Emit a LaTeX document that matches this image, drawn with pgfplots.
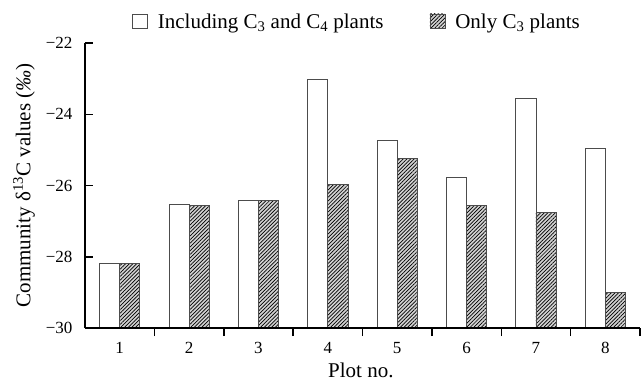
\documentclass[border=0pt]{standalone}
\usepackage{fontspec}
\setmainfont{Liberation Serif}
\usepackage{pgfplots}
\pgfplotsset{compat=1.18}
\usetikzlibrary{patterns.meta}
\begin{document}
\begin{tikzpicture}
\useasboundingbox (0,0) rectangle (641bp,382bp);
\begin{axis}[
  at={(85bp,54bp)}, anchor=south west,
  scale only axis, width=555bp, height=285bp,
  xmin=0.5, xmax=8.5, ymin=-30, ymax=-22,
  y coord trafo/.code={\pgfmathparse{#1+30}},
  y coord inv trafo/.code={\pgfmathparse{#1-30}},
  axis on top,
  axis x line=bottom, axis y line=left,
  axis line style={-, line width=1.6bp, black},
  tick align=inside,
  xtick={1,...,8},
  major x tick style={draw=none},
  minor xtick={1.5,2.5,...,8.5},
  minor tick length=8bp, major tick length=8bp,
  tick style={line width=1.5bp, black},
  ytick={-30,-28,-26,-24,-22},
  yticklabels={−30,−28,−26,−24,−22},
  tick label style={font=\fontsize{17bp}{20bp}\selectfont},
  /pgf/number format/assume math mode=true,
  xticklabel style={yshift=-3bp},
  yticklabel style={xshift=-9bp},
  label style={font=\fontsize{21bp}{25bp}\selectfont},
  xlabel={Plot no.},
  xlabel style={at={(axis description cs:0.497,-0.150)}, anchor=center},
  ylabel={Community δ\textsuperscript{13}C values (\textit{‰})},
  ylabel style={at={(axis description cs:-0.110,0.5)}, anchor=center},
  ybar, bar width=0.29,
  legend columns=2,
  legend style={draw=none, fill=none, at={(0.49,1.074)}, anchor=center,
    font=\fontsize{21bp}{25bp}\selectfont,
    /tikz/every odd column/.append style={column sep=8bp},
    /tikz/every even column/.append style={column sep=44bp}},
  legend image code/.code={\draw[#1] (0bp,-6bp) rectangle (15bp,8bp);},
]
\addplot[fill=white, draw=black!70, line width=0.8bp, bar shift=-0.145]
  coordinates {(1,-28.2) (2,-26.53) (3,-26.42) (4,-23.03) (5,-24.74) (6,-25.77) (7,-23.55) (8,-24.96)};
\addlegendentry{Including C\textsubscript{3} and C\textsubscript{4} plants}
\addplot[fill=gray!35, draw=black!70, line width=0.8bp, bar shift=0.145,
  postaction={pattern={Lines[angle=45,distance=2.6bp,line width=0.7bp]}}]
  coordinates {(1,-28.2) (2,-26.56) (3,-26.42) (4,-25.98) (5,-25.25) (6,-26.57) (7,-26.76) (8,-29.01)};
\addlegendentry{Only C\textsubscript{3} plants}
\end{axis}
\end{tikzpicture}
\end{document}
